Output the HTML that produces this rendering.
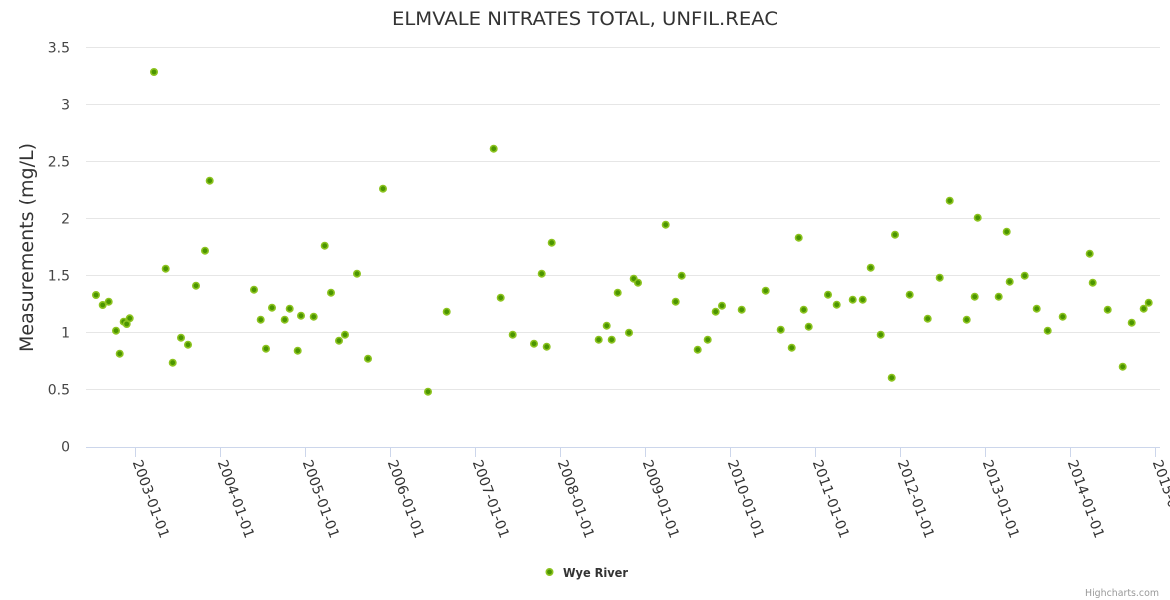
<!DOCTYPE html>
<html><head><meta charset="utf-8"><style>
html,body{margin:0;padding:0;background:#fff;}
svg{display:block;font-family:"DejaVu Sans","Liberation Sans",sans-serif;}
</style></head><body>
<svg width="1170" height="600" viewBox="0 0 1170 600" xmlns="http://www.w3.org/2000/svg">
<rect width="1170" height="600" fill="#fff"/>
<text x="585" y="25" text-anchor="middle" font-size="19" fill="#333" textLength="386" lengthAdjust="spacingAndGlyphs">ELMVALE NITRATES TOTAL, UNFIL.REAC</text>
<g stroke="#e6e6e6" stroke-width="1">
<line x1="86" y1="47.5" x2="1160" y2="47.5"/>
<line x1="86" y1="104.5" x2="1160" y2="104.5"/>
<line x1="86" y1="161.5" x2="1160" y2="161.5"/>
<line x1="86" y1="218.5" x2="1160" y2="218.5"/>
<line x1="86" y1="275.5" x2="1160" y2="275.5"/>
<line x1="86" y1="332.5" x2="1160" y2="332.5"/>
<line x1="86" y1="389.5" x2="1160" y2="389.5"/>
</g>
<g stroke="#ccd6eb" stroke-width="1">
<line x1="86" y1="447.5" x2="1160" y2="447.5"/>
<line x1="135.5" y1="447" x2="135.5" y2="457"/>
<line x1="220.5" y1="447" x2="220.5" y2="457"/>
<line x1="305.5" y1="447" x2="305.5" y2="457"/>
<line x1="390.5" y1="447" x2="390.5" y2="457"/>
<line x1="475.5" y1="447" x2="475.5" y2="457"/>
<line x1="560.5" y1="447" x2="560.5" y2="457"/>
<line x1="645.5" y1="447" x2="645.5" y2="457"/>
<line x1="730.5" y1="447" x2="730.5" y2="457"/>
<line x1="815.5" y1="447" x2="815.5" y2="457"/>
<line x1="900.5" y1="447" x2="900.5" y2="457"/>
<line x1="985.5" y1="447" x2="985.5" y2="457"/>
<line x1="1070.5" y1="447" x2="1070.5" y2="457"/>
<line x1="1155.5" y1="447" x2="1155.5" y2="457"/>
</g>
<g font-size="14" fill="#444" text-anchor="end">
<text x="70" y="52.5">3.5</text>
<text x="70" y="109.5">3</text>
<text x="70" y="166.5">2.5</text>
<text x="70" y="223.5">2</text>
<text x="70" y="280.5">1.5</text>
<text x="70" y="337.5">1</text>
<text x="70" y="394.5">0.5</text>
<text x="70" y="451.5">0</text>
</g>
<text transform="translate(33,247.5) rotate(-90)" text-anchor="middle" font-size="19" fill="#333" textLength="209" lengthAdjust="spacingAndGlyphs">Measurements (mg/L)</text>
<g font-size="14" fill="#333">
<text transform="translate(132.5,462) rotate(70)" textLength="82" lengthAdjust="spacingAndGlyphs">2003-01-01</text>
<text transform="translate(217.5,462) rotate(70)" textLength="82" lengthAdjust="spacingAndGlyphs">2004-01-01</text>
<text transform="translate(302.5,462) rotate(70)" textLength="82" lengthAdjust="spacingAndGlyphs">2005-01-01</text>
<text transform="translate(387.5,462) rotate(70)" textLength="82" lengthAdjust="spacingAndGlyphs">2006-01-01</text>
<text transform="translate(472.5,462) rotate(70)" textLength="82" lengthAdjust="spacingAndGlyphs">2007-01-01</text>
<text transform="translate(557.5,462) rotate(70)" textLength="82" lengthAdjust="spacingAndGlyphs">2008-01-01</text>
<text transform="translate(642.5,462) rotate(70)" textLength="82" lengthAdjust="spacingAndGlyphs">2009-01-01</text>
<text transform="translate(727.5,462) rotate(70)" textLength="82" lengthAdjust="spacingAndGlyphs">2010-01-01</text>
<text transform="translate(812.5,462) rotate(70)" textLength="82" lengthAdjust="spacingAndGlyphs">2011-01-01</text>
<text transform="translate(897.5,462) rotate(70)" textLength="82" lengthAdjust="spacingAndGlyphs">2012-01-01</text>
<text transform="translate(982.5,462) rotate(70)" textLength="82" lengthAdjust="spacingAndGlyphs">2013-01-01</text>
<text transform="translate(1067.5,462) rotate(70)" textLength="82" lengthAdjust="spacingAndGlyphs">2014-01-01</text>
<text transform="translate(1152.5,462) rotate(70)" textLength="82" lengthAdjust="spacingAndGlyphs">2015-01-01</text>
</g>
<g fill="#4b9500" stroke="#8cc31f" stroke-width="1.6">
<circle cx="96" cy="295" r="3.2"/><circle cx="102.7" cy="305" r="3.2"/><circle cx="108.7" cy="301.7" r="3.2"/><circle cx="116" cy="330.7" r="3.2"/><circle cx="119.7" cy="353.7" r="3.2"/><circle cx="123.7" cy="321.7" r="3.2"/><circle cx="126.7" cy="324" r="3.2"/><circle cx="129.7" cy="318.3" r="3.2"/><circle cx="154" cy="72" r="3.2"/><circle cx="165.7" cy="268.7" r="3.2"/><circle cx="172.7" cy="362.7" r="3.2"/><circle cx="181" cy="337.7" r="3.2"/><circle cx="188" cy="344.7" r="3.2"/><circle cx="196" cy="285.7" r="3.2"/><circle cx="205" cy="250.7" r="3.2"/><circle cx="209.7" cy="180.7" r="3.2"/><circle cx="254" cy="289.7" r="3.2"/><circle cx="260.7" cy="319.7" r="3.2"/><circle cx="266" cy="348.7" r="3.2"/><circle cx="272" cy="307.7" r="3.2"/><circle cx="284.7" cy="319.7" r="3.2"/><circle cx="289.7" cy="308.7" r="3.2"/><circle cx="297.7" cy="350.7" r="3.2"/><circle cx="301" cy="315.7" r="3.2"/><circle cx="313.7" cy="316.7" r="3.2"/><circle cx="324.7" cy="245.7" r="3.2"/><circle cx="331" cy="292.7" r="3.2"/><circle cx="339" cy="340.7" r="3.2"/><circle cx="345" cy="334.7" r="3.2"/><circle cx="357" cy="273.7" r="3.2"/><circle cx="368" cy="358.7" r="3.2"/><circle cx="383" cy="188.7" r="3.2"/><circle cx="428" cy="391.7" r="3.2"/><circle cx="446.7" cy="311.7" r="3.2"/>
<circle cx="493.7" cy="148.7" r="3.2"/><circle cx="500.7" cy="297.7" r="3.2"/><circle cx="512.7" cy="334.7" r="3.2"/><circle cx="534" cy="343.7" r="3.2"/><circle cx="541.7" cy="273.7" r="3.2"/><circle cx="546.7" cy="346.7" r="3.2"/><circle cx="551.7" cy="242.7" r="3.2"/><circle cx="598.7" cy="339.7" r="3.2"/><circle cx="606.7" cy="325.7" r="3.2"/><circle cx="611.7" cy="339.7" r="3.2"/><circle cx="617.7" cy="292.7" r="3.2"/><circle cx="629" cy="332.7" r="3.2"/><circle cx="633.7" cy="278.7" r="3.2"/><circle cx="638" cy="282.7" r="3.2"/><circle cx="665.7" cy="224.7" r="3.2"/><circle cx="675.7" cy="301.7" r="3.2"/><circle cx="681.7" cy="275.7" r="3.2"/><circle cx="697.7" cy="349.7" r="3.2"/><circle cx="707.7" cy="339.7" r="3.2"/><circle cx="715.7" cy="311.7" r="3.2"/><circle cx="722" cy="305.7" r="3.2"/><circle cx="741.7" cy="309.7" r="3.2"/><circle cx="765.7" cy="290.7" r="3.2"/><circle cx="780.7" cy="329.7" r="3.2"/><circle cx="791.7" cy="347.7" r="3.2"/><circle cx="798.7" cy="237.7" r="3.2"/><circle cx="803.7" cy="309.7" r="3.2"/><circle cx="808.7" cy="326.7" r="3.2"/>
<circle cx="828" cy="294.7" r="3.2"/><circle cx="836.7" cy="304.7" r="3.2"/><circle cx="852.7" cy="299.7" r="3.2"/><circle cx="862.7" cy="299.7" r="3.2"/><circle cx="870.7" cy="267.7" r="3.2"/><circle cx="880.7" cy="334.7" r="3.2"/><circle cx="891.7" cy="377.7" r="3.2"/><circle cx="895" cy="234.7" r="3.2"/><circle cx="909.7" cy="294.7" r="3.2"/><circle cx="927.7" cy="318.7" r="3.2"/><circle cx="939.7" cy="277.7" r="3.2"/><circle cx="949.7" cy="200.7" r="3.2"/><circle cx="966.7" cy="319.7" r="3.2"/><circle cx="974.7" cy="296.7" r="3.2"/><circle cx="977.7" cy="217.7" r="3.2"/><circle cx="998.7" cy="296.7" r="3.2"/><circle cx="1006.7" cy="231.7" r="3.2"/><circle cx="1009.7" cy="281.7" r="3.2"/><circle cx="1024.7" cy="275.7" r="3.2"/><circle cx="1036.7" cy="308.7" r="3.2"/><circle cx="1047.7" cy="330.7" r="3.2"/><circle cx="1062.7" cy="316.7" r="3.2"/><circle cx="1089.7" cy="253.7" r="3.2"/><circle cx="1092.7" cy="282.7" r="3.2"/><circle cx="1107.7" cy="309.7" r="3.2"/><circle cx="1122.7" cy="366.7" r="3.2"/><circle cx="1131.7" cy="322.7" r="3.2"/><circle cx="1143.7" cy="308.7" r="3.2"/><circle cx="1148.7" cy="302.7" r="3.2"/>
<circle cx="549.5" cy="572" r="3.2"/>
</g>
<text x="563" y="577" font-size="12" font-weight="bold" fill="#333" textLength="65" lengthAdjust="spacingAndGlyphs">Wye River</text>
<text x="1159" y="596" text-anchor="end" font-size="9.5" fill="#999" textLength="74" lengthAdjust="spacingAndGlyphs">Highcharts.com</text>
</svg>
</body></html>
